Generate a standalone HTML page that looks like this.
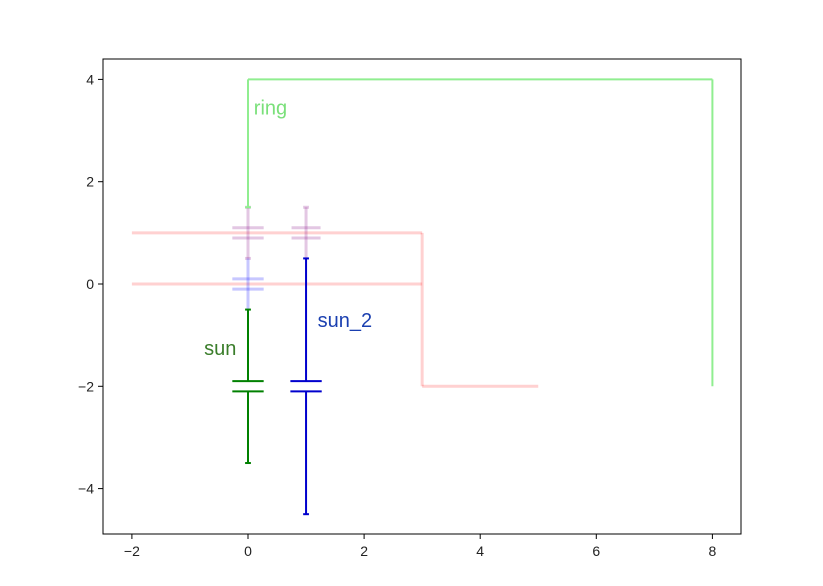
<!DOCTYPE html>
<html><head><meta charset="utf-8"><style>
body{margin:0;background:#fff}
svg{display:block;font-family:"Liberation Sans","DejaVu Sans",sans-serif}
</style></head><body>
<svg id="chart" width="823" height="586">
<rect x="0" y="0" width="823" height="586" fill="#fff"/>
<g id="marks"></g>
<g id="axes"></g>
</svg>
<script>
// data (data units)
const xTicks = [-2, 0, 2, 4, 6, 8];
const yTicks = [-4, -2, 0, 2, 4];
// segments: [x1, y1, x2, y2]
const ringSegs = [[0,1.5,0,4],[0,4,8,4],[8,4,8,-2],[-0.05,1.5,0.05,1.5]];
const carrierSegs = [[-2,1,3,1],[-2,0,3,0],[3,1,3,-2],[3,-2,5,-2]];
const planetSegs = [[0,1.5,0,0.5],[-0.27,1.1,0.27,1.1],[-0.27,0.9,0.27,0.9],[1,1.5,1,0.5],[0.75,1.1,1.25,1.1],[0.75,0.9,1.25,0.9],[-0.05,1.5,0.05,1.5],[0.95,1.5,1.05,1.5],[-0.05,0.5,0.05,0.5]];
const planetBlueSegs = [[0,0.5,0,-0.5],[-0.27,0.1,0.27,0.1],[-0.27,-0.1,0.27,-0.1]];
const sunSegs = [[0,-0.5,0,-1.9],[0,-2.1,0,-3.5],[-0.27,-1.9,0.27,-1.9],[-0.27,-2.1,0.27,-2.1],[-0.05,-0.5,0.05,-0.5],[-0.05,-3.5,0.05,-3.5]];
const sun2Segs = [[1,0.5,1,-1.9],[1,-2.1,1,-4.5],[0.73,-1.9,1.27,-1.9],[0.73,-2.1,1.27,-2.1],[0.95,0.5,1.05,0.5],[0.95,-4.5,1.05,-4.5]];
const labels = ["ring", "sun", "sun_2"];
const labelX = [0.1, -0.2, 1.2];
const labelY = [3.45, -1.25, -0.7];

const L=103,R=741,T=59,B=534;
const sx = v => 248 + (v)*58.05;
const sy = v => 284 - (v)*51.15;
const NS="http://www.w3.org/2000/svg";
const marks=document.getElementById('marks'), axes=document.getElementById('axes');
function mk(tag, attrs, parent){const e=document.createElementNS(NS,tag);for(const k in attrs)e.setAttribute(k,attrs[k]);parent.appendChild(e);return e;}
function drawSegs(segs,color,op,w,name){
  segs.forEach(s=>{
    const l=mk('line',{x1:sx(s[0]),y1:sy(s[1]),x2:sx(s[2]),y2:sy(s[3]),stroke:color,'stroke-opacity':op,'stroke-width':w},marks);
    
    
  });
}
drawSegs(carrierSegs,'#ff0000',0.18,3,'carrier-line');
drawSegs(planetSegs,'#800080',0.22,3,'planet-line');
drawSegs(planetBlueSegs,'#0000ff',0.22,3,'planet-sun-line');
drawSegs(ringSegs,'#90ee90',1,2,'ring-line');
drawSegs(sunSegs,'#008000',1,2,'sun-line');
drawSegs(sun2Segs,'#0000cd',1,2,'sun2-line');
const lblColors=['#7ae07a','#3a7d2a','#1a3fb0'];
const lblAnchor=['start','end','start'];
labels.forEach((t,i)=>{
  const e=mk('text',{x:sx(labelX[i]),y:sy(labelY[i])+7,fill:lblColors[i],'font-size':20,'text-anchor':lblAnchor[i]},marks);
  e.textContent=t;
  
  
});
const fr=mk('rect',{x:L,y:T,width:R-L,height:B-T,fill:'none',stroke:'#000','stroke-width':1},axes);


xTicks.forEach(v=>{
  const x=sx(v);
  const tk=mk('line',{x1:x,y1:B,x2:x,y2:B+5,stroke:'#000'},axes);
  
  
  const t=mk('text',{x:x,y:B+22,'font-size':14,'text-anchor':'middle',fill:'#222'},axes);
  t.textContent=v<0?'\u2212'+(-v):String(v);
  
  
});
yTicks.forEach(v=>{
  const y=sy(v);
  const tk=mk('line',{x1:L-5,y1:y,x2:L,y2:y,stroke:'#000'},axes);
  
  
  const t=mk('text',{x:L-9,y:y+5,'font-size':14,'text-anchor':'end',fill:'#222'},axes);
  t.textContent=v<0?'\u2212'+(-v):String(v);
  
  
});
</script>
</body></html>
